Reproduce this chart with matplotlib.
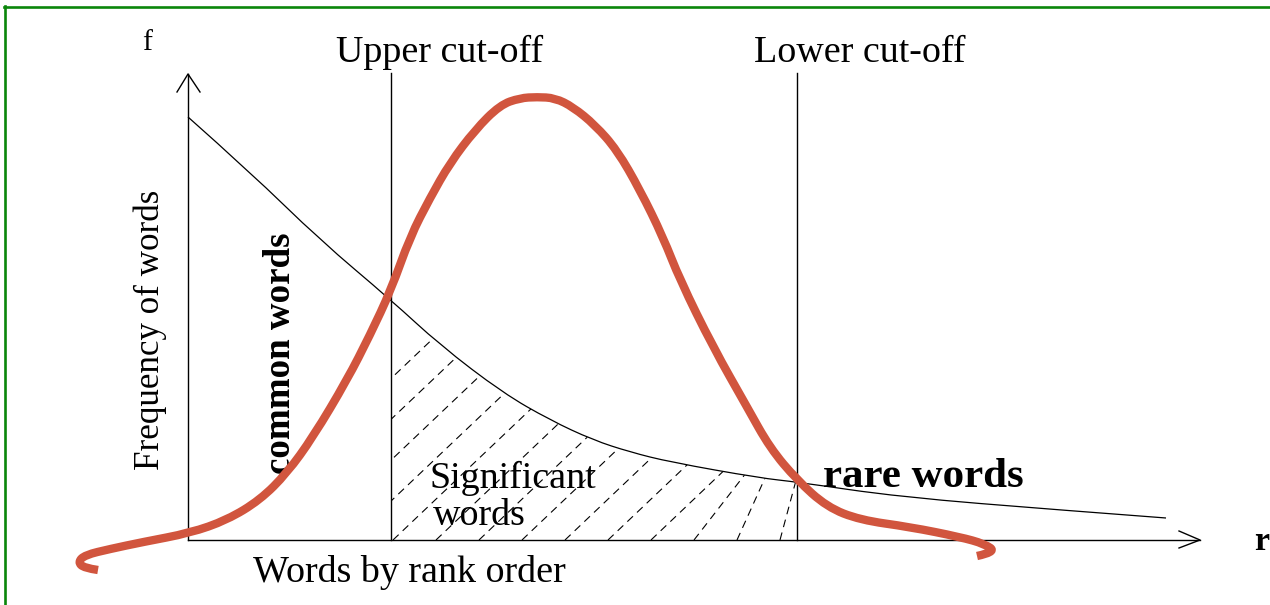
import numpy as np
import matplotlib
matplotlib.use("Agg")
import matplotlib.pyplot as plt
from matplotlib.patches import Polygon, PathPatch
from matplotlib.path import Path
from matplotlib.lines import Line2D

# ---------------- data (diagram units: r to the right, f upwards) ----------------
# Zipf-like decay curve: frequency vs rank
rank_pts = [0, 62, 132, 203, 252, 315, 362, 405, 442, 482, 572, 609, 712, 872, 978]
freq_pts = [423, 368, 300, 240, 195, 147, 120, 100, 88, 78, 62, 58, 43, 30, 22]

# cut-off positions (rank)
upper_cutoff = 203
lower_cutoff = 609
axis_top = 466
axis_right = 1012

# hand-drawn red "resolving power" curve
red_x = [-90, -104, -110, -103, -78, -45, 2, 39, 72, 99, 125, 159, 182, 203, 222,
         242, 262, 287, 312, 332, 349, 367, 385, 407, 429, 452, 475, 492, 525, 559,
         582, 609, 639, 672, 722, 772, 797, 808, 789]
red_y = [-30, -28, -22, -15, -9, -2, 7, 20, 40, 67, 103, 160, 205, 250, 303,
         342, 377, 410, 435, 442, 443, 442, 433, 415, 390, 350, 303, 260, 193, 133,
         92, 60, 33, 20, 13, 3, -4, -12, -16]

# labels
lbl_f = "f"
lbl_r = "r"
lbl_upper = "Upper cut-off"
lbl_lower = "Lower cut-off"
lbl_ylabel = "Frequency of words"
lbl_xlabel = "Words by rank order"
lbl_common = "common words"
lbl_sig1 = "Significant"
lbl_sig2 = "words"
lbl_rare = "rare words"


def smooth_path(xs, ys):
    """Quadratic B-spline style path through the given control points."""
    p = np.column_stack([xs, ys]).astype(float)
    verts = [p[0]]
    codes = [Path.MOVETO]
    for i in range(1, len(p) - 1):
        mid = (p[i] + p[i + 1]) / 2.0
        if i == len(p) - 2:
            mid = p[i + 1]
        verts += [p[i], mid]
        codes += [Path.CURVE3, Path.CURVE3]
    return Path(verts, codes)


# ---------------- figure ----------------
W, H, DPI = 1270, 605, 100
fig = plt.figure(figsize=(W / DPI, H / DPI), dpi=DPI)
fig.patch.set_facecolor("white")
ax = fig.add_axes([0, 0, 1, 1])
ax.set_xlim(-188, W - 188)
ax.set_ylim(-(H - 540), 540)
ax.axis("off")

serif = ["Liberation Serif", "DejaVu Serif"]
px = 0.72  # px -> pt at 100 dpi
black = "#000000"
red = "#D1553E"

# axes with open arrowheads
ax.plot([0, 0], [0, axis_top], color=black, lw=1.0)
ax.plot([-11, 0, 12], [axis_top - 18, axis_top, axis_top - 18], color=black, lw=1.0)
ax.plot([0, axis_right], [0, 0], color=black, lw=1.0)
ax.plot([axis_right - 21, axis_right, axis_right - 21], [9, 0, -8], color=black, lw=1.0)

# cut-off lines
ax.plot([upper_cutoff, upper_cutoff], [0, axis_top + 1], color=black, lw=1.0)
ax.plot([lower_cutoff, lower_cutoff], [0, axis_top + 1], color=black, lw=1.0)

# decay curve (smoothed)
decay = PathPatch(smooth_path(rank_pts, freq_pts), fill=False, edgecolor=black,
                  lw=0.9)
ax.add_patch(decay)

# hatched region (dashed diagonal lines) between cut-offs under the curve
rx = np.array(rank_pts, float)
fy = np.array(freq_pts, float)
xs = np.linspace(upper_cutoff, lower_cutoff, 120)
ys = np.interp(xs, rx, fy)
poly_xy = np.column_stack([np.r_[upper_cutoff, xs, lower_cutoff],
                           np.r_[0, ys, 0]])
clip = Polygon(poly_xy, closed=True, transform=ax.transData, fill=False, lw=0)
ax.add_patch(clip)
for xb in np.arange(33, 600, 43):
    s = 0.95 + 2.0 * max(0.0, (xb - 460) / 112.0) ** 2
    x0, x1 = xb, xb + 300 / s
    ln, = ax.plot([x0, x1], [0, 300], color=black, lw=0.8,
                  linestyle=(0, (7, 5)))
    ln.set_clip_path(clip)

# red hand-drawn curve (smoothed)
redp = PathPatch(smooth_path(red_x, red_y), fill=False, edgecolor=red, lw=6.0,
                 zorder=5)
redp.set_capstyle("butt")
redp.set_joinstyle("round")
ax.add_patch(redp)

# texts
ax.text(-41, 490, lbl_f, family=serif, fontsize=30 * px, ha="center",
        va="baseline", color=black)
ax.text(252, 478, lbl_upper, family=serif, fontsize=38 * px, ha="center",
        va="baseline", color=black)
ax.text(672, 478, lbl_lower, family=serif, fontsize=38 * px, ha="center",
        va="baseline", color=black)
ax.text(-38, 210, lbl_ylabel, family=serif, fontsize=35 * px, ha="center",
        va="center", rotation=90, color=black)
ax.text(92, 187, lbl_common, family=serif, fontsize=37 * px, weight="bold",
        ha="center", va="center", rotation=90, color=black)
ax.text(242, 52, lbl_sig1, family=serif, fontsize=38 * px, ha="left",
        va="baseline", color=black)
ax.text(245, 15, lbl_sig2, family=serif, fontsize=38 * px, ha="left",
        va="baseline", color=black)
ax.text(635, 53, lbl_rare, family=serif, fontsize=43 * px, weight="bold",
        ha="left", va="baseline", color=black, zorder=6)
ax.text(65, -42, lbl_xlabel, family=serif, fontsize=38 * px, ha="left",
        va="baseline", color=black)
ax.text(1066, -10, lbl_r, family=serif, fontsize=34 * px, weight="bold",
        ha="left", va="baseline", color=black)

# green frame (top and left edges)
green = "#0A860A"
fig.add_artist(Line2D([4 / W, 1.0], [1 - 7 / H, 1 - 7 / H], color=green, lw=1.9,
                      transform=fig.transFigure))
fig.add_artist(Line2D([5 / W, 5 / W], [1 - 6 / H, 0.0], color=green, lw=1.9,
                      transform=fig.transFigure))

fig.savefig("out.png", dpi=DPI, facecolor="white")
